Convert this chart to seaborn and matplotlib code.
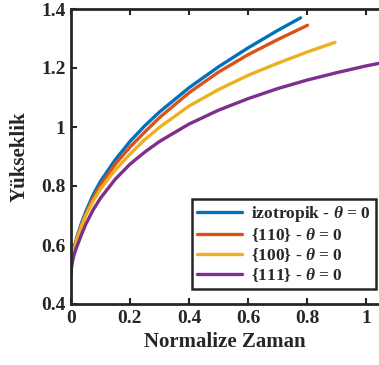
import numpy as np
import pandas as pd
import matplotlib
matplotlib.use('Agg')
import matplotlib.pyplot as plt
import seaborn as sns

# veriler
t_izo = [0, 0.001, 0.004, 0.01, 0.02, 0.035, 0.05, 0.075, 0.1, 0.15, 0.2, 0.25,
         0.3, 0.4, 0.5, 0.6, 0.7, 0.778]
y_izo = [0.5, 0.528, 0.555, 0.588, 0.627, 0.673, 0.713, 0.770, 0.816, 0.889, 0.951, 1.004,
         1.051, 1.133, 1.204, 1.268, 1.327, 1.370]

t_110 = [0, 0.001, 0.004, 0.01, 0.02, 0.035, 0.05, 0.075, 0.1, 0.15, 0.2, 0.25,
         0.3, 0.4, 0.5, 0.6, 0.7, 0.802]
y_110 = [0.5, 0.527, 0.553, 0.585, 0.622, 0.667, 0.704, 0.759, 0.803, 0.874, 0.932, 0.983,
         1.032, 1.116, 1.186, 1.245, 1.296, 1.345]

t_100 = [0, 0.001, 0.004, 0.01, 0.02, 0.035, 0.05, 0.075, 0.1, 0.15, 0.2, 0.25,
         0.3, 0.4, 0.5, 0.6, 0.7, 0.8, 0.895]
y_100 = [0.5, 0.526, 0.552, 0.583, 0.619, 0.662, 0.700, 0.749, 0.790, 0.855, 0.908, 0.957,
         0.999, 1.071, 1.127, 1.175, 1.216, 1.254, 1.287]

t_111 = [0, 0.001, 0.004, 0.01, 0.017, 0.035, 0.05, 0.075, 0.1, 0.15, 0.2, 0.25,
         0.3, 0.4, 0.5, 0.6, 0.7, 0.8, 0.9, 1.0, 1.06]
y_111 = [0.5, 0.518, 0.539, 0.565, 0.587, 0.634, 0.670, 0.719, 0.759, 0.823, 0.874, 0.915,
         0.951, 1.010, 1.057, 1.096, 1.130, 1.159, 1.184, 1.207, 1.219]

labels = ['izotropik - $\\theta$ = 0', '{110} - $\\theta$ = 0',
          '{100} - $\\theta$ = 0', '{111} - $\\theta$ = 0']
colors = ['#0072BD', '#D95319', '#EDB120', '#7E2F8E']

df = pd.concat([
    pd.DataFrame({'t': t_izo, 'y': y_izo, 'seri': labels[0]}),
    pd.DataFrame({'t': t_110, 'y': y_110, 'seri': labels[1]}),
    pd.DataFrame({'t': t_100, 'y': y_100, 'seri': labels[2]}),
    pd.DataFrame({'t': t_111, 'y': y_111, 'seri': labels[3]}),
], ignore_index=True)

sns.set_style('ticks')
plt.rcParams['font.family'] = ['Liberation Serif', 'DejaVu Serif']
plt.rcParams['font.weight'] = 'bold'
plt.rcParams['mathtext.fontset'] = 'custom'
plt.rcParams['mathtext.rm'] = 'Liberation Serif:bold'
plt.rcParams['mathtext.it'] = 'Liberation Serif:bold:italic'

fig = plt.figure(figsize=(3.79, 3.65), dpi=100)
ax = fig.add_axes([71 / 379, 1 - 304 / 365, 308 / 379, 295 / 365])

sns.lineplot(data=df, x='t', y='y', hue='seri', palette=colors, sort=False,
             linewidth=2.4, ax=ax, hue_order=labels)

ax.set_xlim(0, 308 / 295)
ax.set_ylim(0.4, 1.4)
ax.set_xticks([0, 0.2, 0.4, 0.6, 0.8, 1])
ax.set_xticklabels(['0', '0.2', '0.4', '0.6', '0.8', '1'])
ax.set_yticks([0.4, 0.6, 0.8, 1.0, 1.2, 1.4])
ax.set_yticklabels(['0.4', '0.6', '0.8', '1', '1.2', '1.4'])
ax.tick_params(direction='in', length=4, width=1.5, top=True, labelsize=14,
               colors='#262626', pad=4)
for s in ['left', 'bottom', 'top']:
    ax.spines[s].set_linewidth(2)
    ax.spines[s].set_color('#262626')
ax.spines['right'].set_visible(False)

ax.set_xlabel('Normalize Zaman', fontsize=15, fontweight='bold', color='#262626', labelpad=4)
ax.set_ylabel('Yükseklik', fontsize=15, fontweight='bold', color='#262626', labelpad=8)

leg = ax.legend(loc='lower right', fontsize=12.5, fancybox=False, framealpha=1,
                edgecolor='#262626', handlelength=2.6, borderpad=0.3,
                labelspacing=0.12, handletextpad=0.5, borderaxespad=0,
                bbox_to_anchor=(0.990, 0.051))
leg.get_frame().set_linewidth(1.8)
leg.set_title(None)

fig.savefig('out.png', dpi=100)
